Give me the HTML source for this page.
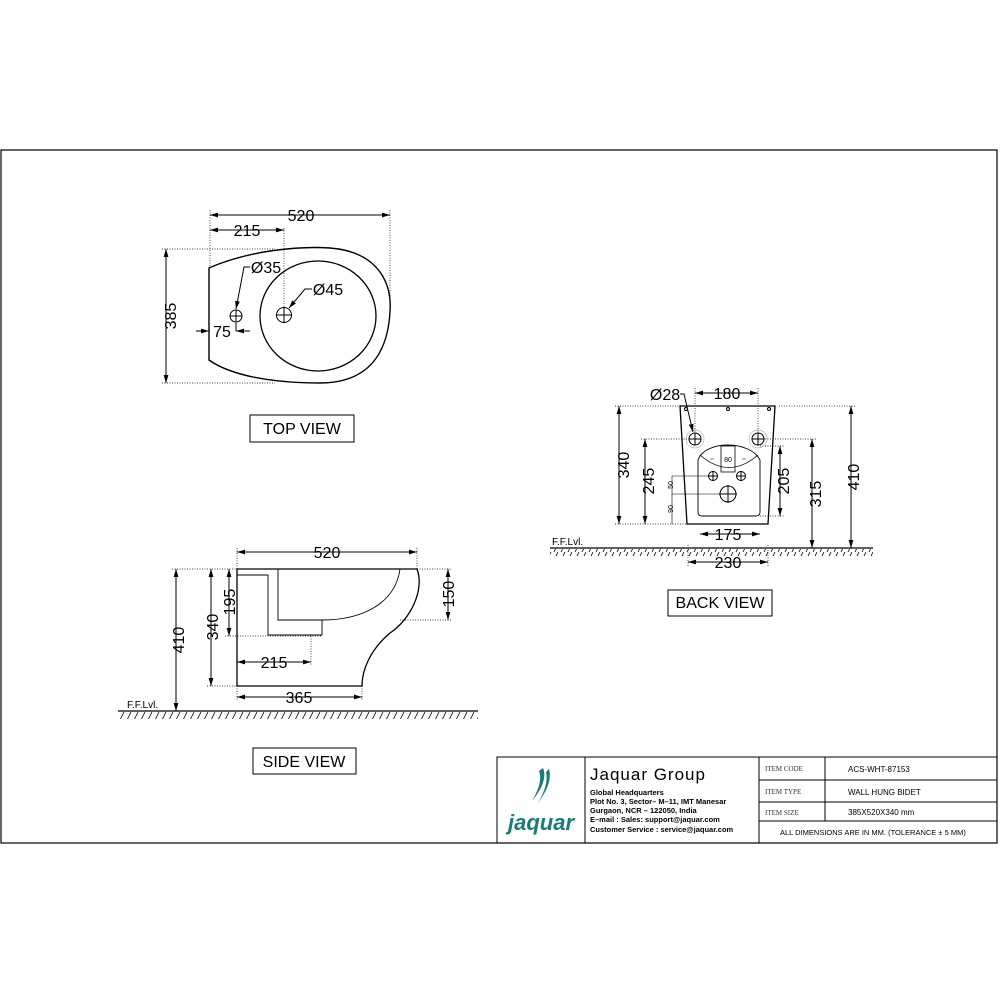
<!DOCTYPE html>
<html><head><style>
body{margin:0;background:#fff;}
svg{display:block;font-family:"Liberation Sans",sans-serif;}
</style></head><body>
<svg width="1000" height="1000" viewBox="0 0 1000 1000" xmlns="http://www.w3.org/2000/svg">
<defs>
<marker id="a" viewBox="0 0 10 6" refX="10" refY="3" markerWidth="8" markerHeight="5" orient="auto-start-reverse"><path d="M0,0L10,3L0,6z" fill="#000"/></marker>
<pattern id="h" width="7" height="8" patternUnits="userSpaceOnUse"><line x1="5" y1="0" x2="1" y2="8" stroke="#000" stroke-width="0.8"/></pattern>
</defs>
<rect x="1" y="150" width="996" height="693" fill="none" stroke="#000" stroke-width="1.2"/>
<g fill="none" stroke="#000" stroke-width="1">
<!-- TOP VIEW -->
<g stroke-dasharray="1,1.5" stroke-width="0.7">
<line x1="210" y1="210" x2="210" y2="268"/><line x1="390" y1="210" x2="390" y2="310"/>
<line x1="284" y1="228" x2="284" y2="308"/><line x1="162" y1="249" x2="275" y2="249"/><line x1="162" y1="383" x2="275" y2="383"/>
</g>
<path d="M209,268 C250,250 300,246 330,248 C380,252 392,285 390,312 C388,345 375,383 320,383 C270,383 230,375 209,360 Z" stroke-width="1.4"/>
<ellipse cx="318" cy="316" rx="58" ry="55" stroke-width="1.3"/>
<circle cx="284" cy="315" r="7.5"/><path d="M276,315h16M284,307v16"/>
<circle cx="236" cy="316" r="6"/><path d="M230,316h12M236,310v12"/>
<path d="M210,215H390" marker-start="url(#a)" marker-end="url(#a)"/>
<path d="M210,230H284" marker-start="url(#a)" marker-end="url(#a)"/>
<path d="M166,249V383" marker-start="url(#a)" marker-end="url(#a)"/>
<path d="M196,331h13" marker-end="url(#a)"/><path d="M250,331h-14" marker-end="url(#a)"/><path d="M236,331v-8"/>
<path d="M250,267h-6l-8,42" marker-end="url(#a)"/>
<path d="M312,289h-7l-16,19" marker-end="url(#a)"/>
<rect x="250" y="415" width="104" height="27"/>
<!-- BACK VIEW -->
<g stroke-dasharray="1,1.5" stroke-width="0.7">
<line x1="615" y1="406" x2="680" y2="406"/><line x1="779" y1="406" x2="855" y2="406"/>
<line x1="615" y1="524" x2="687" y2="524"/><line x1="641" y1="439" x2="689" y2="439"/><line x1="765" y1="439" x2="816" y2="439"/>
<line x1="695" y1="388" x2="695" y2="432"/><line x1="758" y1="388" x2="758" y2="432"/>
<line x1="760" y1="446" x2="784" y2="446"/><line x1="760" y1="516" x2="784" y2="516"/>
<line x1="688" y1="545" x2="688" y2="566"/><line x1="768" y1="545" x2="768" y2="566"/>
</g>
<path d="M680,406H775L768,524H687Z" stroke-width="1.3"/>
<path d="M698,460 C705,440 750,440 760,460 V512 Q760,516 756,516 H702 Q698,516 698,512Z" stroke-width="0.9"/>
<path d="M700,455 Q729,480 758,455" stroke-width="0.8"/>
<rect x="721" y="446" width="14" height="26" stroke-width="0.8"/>
<circle cx="695" cy="439" r="6"/><circle cx="695" cy="439" r="9" stroke-width="0.5" stroke="#888"/><path d="M689,439h12M695,433v12"/>
<circle cx="758" cy="439" r="6"/><circle cx="758" cy="439" r="9" stroke-width="0.5" stroke="#888"/><path d="M752,439h12M758,433v12"/>
<circle cx="686" cy="409" r="1.5"/><circle cx="728" cy="409" r="1.5"/><circle cx="769" cy="409" r="1.5"/>
<circle cx="713" cy="476" r="4.5"/><path d="M708,476h10M713,471v10"/>
<circle cx="741" cy="476" r="4.5"/><path d="M736,476h10M741,471v10"/>
<circle cx="728" cy="494" r="8"/><path d="M719,494h18M728,485v18"/>
<path d="M672,476h36M672,494h48M672,476v48" stroke-width="0.6"/>
<path d="M714,459h-4M742,459h4" stroke-width="0.6"/>
<path d="M619,406V524" marker-start="url(#a)" marker-end="url(#a)"/>
<path d="M645,439V524" marker-start="url(#a)" marker-end="url(#a)"/>
<path d="M780,446V516" marker-start="url(#a)" marker-end="url(#a)"/>
<path d="M812,439V548" marker-start="url(#a)" marker-end="url(#a)"/>
<path d="M851,406V548" marker-start="url(#a)" marker-end="url(#a)"/>
<path d="M695,393H758" marker-start="url(#a)" marker-end="url(#a)"/>
<path d="M700,534H760" marker-start="url(#a)" marker-end="url(#a)"/>
<path d="M688,562H768" marker-start="url(#a)" marker-end="url(#a)"/>
<path d="M680,394h4l9,38" marker-end="url(#a)"/>
<line x1="550" y1="548" x2="873" y2="548" stroke-width="1.3"/>
<rect x="668" y="590" width="104" height="26"/>
<!-- SIDE VIEW -->
<g stroke-dasharray="1,1.5" stroke-width="0.7">
<line x1="237" y1="548" x2="237" y2="569"/><line x1="417" y1="548" x2="417" y2="569"/>
<line x1="172" y1="569" x2="237" y2="569"/><line x1="417" y1="569" x2="452" y2="569"/>
<line x1="207" y1="686" x2="237" y2="686"/><line x1="225" y1="636" x2="322" y2="636"/>
<line x1="400" y1="620" x2="452" y2="620"/><line x1="311" y1="636" x2="311" y2="666"/>
<line x1="237" y1="686" x2="237" y2="701"/><line x1="362" y1="686" x2="362" y2="701"/>
</g>
<path d="M237,569H417 C425,590 410,620 390,633 C370,650 362,670 362,686 H237Z" stroke-width="1.3"/>
<path d="M237,575H268V635H322V620H278V569" stroke-width="0.9"/>
<path d="M322,620 C360,620 395,605 400,569" stroke-width="0.9"/>
<path d="M237,552H417" marker-start="url(#a)" marker-end="url(#a)"/>
<path d="M176,569V711" marker-start="url(#a)" marker-end="url(#a)"/>
<path d="M211,569V686" marker-start="url(#a)" marker-end="url(#a)"/>
<path d="M229,569V636" marker-start="url(#a)" marker-end="url(#a)"/>
<path d="M448,569V620" marker-start="url(#a)" marker-end="url(#a)"/>
<path d="M237,662H311" marker-start="url(#a)" marker-end="url(#a)"/>
<path d="M237,697H362" marker-start="url(#a)" marker-end="url(#a)"/>
<line x1="118" y1="711" x2="478" y2="711" stroke-width="1.3"/>
<rect x="253" y="748" width="103" height="26"/>
<!-- title block -->
<rect x="497" y="757" width="500" height="86"/>
<path d="M585,757V843M759,757V843M825,757V821M759,780H997M759,802H997M759,821H997"/>
</g>
<rect x="550" y="549" width="323" height="7" fill="url(#h)"/>
<rect x="118" y="712" width="360" height="7" fill="url(#h)"/>
<g font-size="16" text-anchor="middle" fill="#000">
<text x="301" y="221">520</text><text x="247" y="236">215</text>
<text x="176" y="316" transform="rotate(-90 176 316)">385</text>
<text x="222" y="337">75</text>
<text x="266" y="273">Ø35</text><text x="328" y="295">Ø45</text>
<text x="302" y="434">TOP VIEW</text>
<text x="727" y="399">180</text><text x="665" y="400">Ø28</text>
<text x="629" y="465" transform="rotate(-90 629 465)">340</text>
<text x="654" y="481" transform="rotate(-90 654 481)">245</text>
<text x="789" y="481" transform="rotate(-90 789 481)">205</text>
<text x="821" y="494" transform="rotate(-90 821 494)">315</text>
<text x="859" y="477" transform="rotate(-90 859 477)">410</text>
<text x="728" y="540">175</text><text x="728" y="568">230</text>
<text x="720" y="608">BACK VIEW</text>
<text x="327" y="558">520</text>
<text x="184" y="640" transform="rotate(-90 184 640)">410</text>
<text x="218" y="627" transform="rotate(-90 218 627)">340</text>
<text x="235" y="602" transform="rotate(-90 235 602)">195</text>
<text x="454" y="594" transform="rotate(-90 454 594)">150</text>
<text x="274" y="668">215</text><text x="299" y="703">365</text>
<text x="304" y="767">SIDE VIEW</text>
</g>
<g font-size="7" text-anchor="middle">
<text x="728" y="462">80</text>
<text x="673" y="485" transform="rotate(-90 673 485)">50</text>
<text x="673" y="509" transform="rotate(-90 673 509)">90</text>
</g>
<g font-size="10">
<text x="552" y="545">F.F.Lvl.</text><text x="127" y="708">F.F.Lvl.</text>
</g>
<!-- logo -->
<path d="M543,768 C547,777 542,789 532,801 C539,789 542,779 539,771Z M549,769 C552,779 547,791 538,803 C545,791 548,781 546,772Z" fill="#1b7a7a"/>
<text x="541" y="830" font-size="22" font-style="italic" font-weight="bold" fill="#1b7a7a" text-anchor="middle">jaquar</text>
<text x="590" y="780" font-size="17" letter-spacing="1">Jaquar Group</text>
<g font-size="7.5" font-weight="bold">
<text x="590" y="795">Global Headquarters</text>
<text x="590" y="804">Plot No. 3, Sector– M–11, IMT Manesar</text>
<text x="590" y="813">Gurgaon, NCR – 122050, India</text>
<text x="590" y="822">E–mail : Sales: support@jaquar.com</text>
<text x="590" y="832">Customer Service : service@jaquar.com</text>
</g>
<g font-size="7" font-family="Liberation Serif,serif" fill="#333">
<text x="765" y="771">ITEM CODE</text><text x="765" y="794">ITEM TYPE</text><text x="765" y="815">ITEM SIZE</text>
</g>
<g font-size="8">
<text x="848" y="772">ACS-WHT-87153</text><text x="848" y="795">WALL HUNG BIDET</text><text x="848" y="815">385X520X340 mm</text>
<text x="780" y="835" font-size="7.5">ALL DIMENSIONS ARE IN MM. (TOLERANCE ± 5 MM)</text>
</g>
</svg>
</body></html>
